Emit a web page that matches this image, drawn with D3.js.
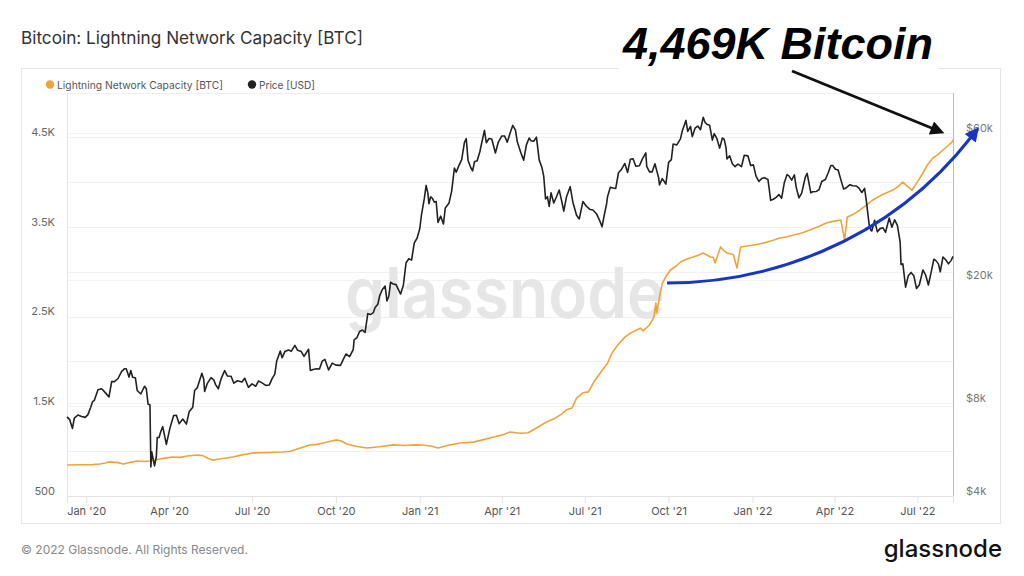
<!DOCTYPE html>
<html><head><meta charset="utf-8">
<script src="https://cdn.jsdelivr.net/npm/d3@7"></script>
<style>
body{margin:0;background:#fff;}
svg{display:block;font-family:Inter,"Noto Sans",sans-serif;}
</style>
</head><body>
<svg id="c" width="1024" height="576"></svg>
<script>
const title = "Bitcoin: Lightning Network Capacity [BTC]";
const seriesNames = ["Lightning Network Capacity [BTC]", "Price [USD]"];
const seriesColors = ["#eea43a", "#222222"];
const leftTicks = [500, 1500, 2500, 3500, 4500];
const leftTickLabels = ["500", "1.5K", "2.5K", "3.5K", "4.5K"];
const leftGrid = [500, 1000, 1500, 2000, 2500, 3000, 3500, 4000, 4500];
const rightTicks = [4000, 8000, 20000, 60000];
const rightTickLabels = ["$4k", "$8k", "$20k", "$60k"];
const xDomain = ["2019-12-11", "2022-08-09"];
const annotationText = "4,469K Bitcoin";
const watermark = "glassnode";
const footer = "© 2022 Glassnode. All Rights Reserved.";

const capacity = [
["2019-12-11",845],["2019-12-25",848],["2020-01-08",850],["2020-01-16",857],["2020-01-22",868],["2020-01-27",880],
["2020-02-05",872],["2020-02-11",857],["2020-02-18",875],["2020-02-26",890],["2020-03-04",884],["2020-03-11",890],["2020-03-22",912],
["2020-03-29",925],["2020-04-05",935],["2020-04-13",930],["2020-04-21",945],["2020-05-02",957],["2020-05-08",950],["2020-05-14",918],["2020-05-19",900],
["2020-05-28",915],["2020-06-10",935],["2020-06-20",958],["2020-07-02",980],["2020-07-20",985],["2020-08-04",990],["2020-08-12",998],["2020-08-23",1035],
["2020-09-03",1070],["2020-09-10",1075],["2020-09-17",1090],["2020-09-25",1110],["2020-10-02",1125],["2020-10-07",1112],["2020-10-13",1080],["2020-10-24",1052],["2020-11-04",1035],
["2020-11-18",1048],["2020-12-03",1070],["2020-12-15",1062],["2020-12-29",1070],["2021-01-06",1066],["2021-01-13",1057],["2021-01-21",1035],["2021-02-01",1065],["2021-02-14",1090],
["2021-03-01",1100],["2021-03-12",1128],["2021-03-23",1157],["2021-04-01",1178],["2021-04-10",1213],["2021-04-21",1200],["2021-04-30",1205],
["2021-05-09",1258],["2021-05-20",1325],["2021-05-30",1370],["2021-06-05",1410],["2021-06-11",1460],["2021-06-17",1480],
["2021-06-22",1590],["2021-06-29",1650],["2021-07-05",1660],["2021-07-11",1770],["2021-07-18",1870],
["2021-07-26",1980],["2021-07-31",2095],["2021-08-06",2180],["2021-08-14",2270],["2021-08-21",2320],["2021-08-27",2350],
["2021-08-31",2370],["2021-09-03",2340],["2021-09-10",2405],["2021-09-15",2495],["2021-09-17",2650],
["2021-09-18",2540],["2021-09-21",2715],["2021-09-24",2870],["2021-09-29",2960],["2021-10-03",3018],["2021-10-09",3060],["2021-10-14",3107],
["2021-10-21",3140],["2021-10-28",3163],["2021-11-03",3185],["2021-11-08",3207],["2021-11-16",3163],["2021-11-19",3160],["2021-11-21",3096],["2021-11-27",3275],
["2021-12-01",3230],["2021-12-04",3207],["2021-12-11",3190],["2021-12-15",3040],["2021-12-19",3275],["2021-12-26",3285],["2022-01-02",3297],
["2022-01-10",3310],["2022-01-17",3330],["2022-01-24",3350],["2022-01-31",3375],["2022-02-08",3388],["2022-02-15",3408],["2022-02-24",3430],["2022-03-05",3464],["2022-03-14",3500],["2022-03-23",3542],
["2022-03-30",3560],["2022-04-08",3575],["2022-04-12",3352],["2022-04-15",3609],["2022-04-22",3640],["2022-04-29",3687],["2022-05-06",3740],["2022-05-13",3798],
["2022-05-22",3850],["2022-06-04",3909],["2022-06-10",3950],["2022-06-15",3999],["2022-06-20",3950],["2022-06-25",3909],["2022-07-01",4000],["2022-07-07",4099],["2022-07-12",4190],["2022-07-18",4266],
["2022-07-23",4300],["2022-07-29",4355],["2022-08-03",4400],["2022-08-08",4444],["2022-08-09",4469]
];

const price = [
["2019-12-11",7220],["2019-12-14",7070],["2019-12-17",6620],["2019-12-19",7150],["2019-12-23",7320],
["2019-12-27",7240],["2019-12-31",7190],["2020-01-03",7340],["2020-01-06",7760],["2020-01-08",8080],
["2020-01-10",8170],["2020-01-14",8830],["2020-01-18",8900],["2020-01-22",8650],["2020-01-26",8370],
["2020-01-29",9390],["2020-02-01",9390],["2020-02-05",9610],["2020-02-09",10130],["2020-02-12",10330],
["2020-02-14",10330],["2020-02-17",9710],["2020-02-19",10200],["2020-02-21",9700],["2020-02-24",9670],
["2020-02-26",8790],["2020-03-01",8560],["2020-03-05",9070],["2020-03-07",8900],["2020-03-09",7930],
["2020-03-11",7900],["2020-03-12",4970],["2020-03-13",5560],["2020-03-16",5010],["2020-03-18",5360],
["2020-03-19",6190],["2020-03-21",6190],["2020-03-23",6480],["2020-03-25",6710],["2020-03-29",5880],
["2020-04-02",6650],["2020-04-06",7290],["2020-04-09",7300],["2020-04-12",6860],["2020-04-16",7100],
["2020-04-20",6840],["2020-04-23",7500],["2020-04-27",7760],["2020-04-29",8790],["2020-05-02",8980],
["2020-05-07",9990],["2020-05-09",9550],["2020-05-10",8720],["2020-05-13",9270],["2020-05-17",9670],
["2020-05-20",9520],["2020-05-22",9180],["2020-05-25",8900],["2020-05-28",9580],["2020-06-01",10200],
["2020-06-04",9790],["2020-06-08",9770],["2020-06-11",9280],["2020-06-15",9450],["2020-06-20",9360],
["2020-06-23",9630],["2020-06-27",9000],["2020-07-01",9230],["2020-07-05",9070],["2020-07-08",9430],
["2020-07-12",9300],["2020-07-16",9130],["2020-07-20",9160],["2020-07-23",9600],["2020-07-26",9930],
["2020-07-28",10930],["2020-08-01",11800],["2020-08-03",11220],["2020-08-06",11750],["2020-08-10",11880],
["2020-08-13",11770],["2020-08-17",12300],["2020-08-20",11860],["2020-08-24",11750],["2020-08-27",11330],
["2020-09-01",11950],["2020-09-03",10200],["2020-09-06",10280],["2020-09-10",10340],["2020-09-13",10320],
["2020-09-16",10940],["2020-09-19",11080],["2020-09-23",10240],["2020-09-27",10780],["2020-10-01",10620],
["2020-10-06",10600],["2020-10-09",11060],["2020-10-12",11540],["2020-10-16",11320],["2020-10-20",11920],
["2020-10-21",12820],["2020-10-24",13030],["2020-10-27",13650],["2020-10-30",13800],["2020-11-02",13560],
["2020-11-05",15590],["2020-11-08",15480],["2020-11-11",15700],["2020-11-13",16310],["2020-11-16",16720],
["2020-11-18",17800],["2020-11-21",18670],["2020-11-24",19160],["2020-11-26",17150],["2020-11-28",17720],
["2020-11-30",19700],["2020-12-03",19440],["2020-12-06",19360],["2020-12-09",18540],["2020-12-11",18050],
["2020-12-14",19270],["2020-12-17",22800],["2020-12-20",23470],["2020-12-23",23240],["2020-12-26",26440],
["2020-12-29",27360],["2021-01-01",29370],["2021-01-03",32780],["2021-01-06",36770],["2021-01-08",40580],
["2021-01-10",38150],["2021-01-11",35400],["2021-01-13",37300],["2021-01-15",36800],["2021-01-17",35790],
["2021-01-19",36000],["2021-01-21",30800],["2021-01-24",32260],["2021-01-27",30430],["2021-01-29",34300],
["2021-02-02",35500],["2021-02-05",38900],["2021-02-08",46200],["2021-02-10",44800],["2021-02-13",47100],
["2021-02-16",49200],["2021-02-19",55900],["2021-02-21",57500],["2021-02-23",48900],["2021-02-26",46300],
["2021-02-28",45200],["2021-03-02",48400],["2021-03-05",48800],["2021-03-08",52300],["2021-03-10",55800],
["2021-03-13",61200],["2021-03-15",55800],["2021-03-18",57600],["2021-03-21",57400],["2021-03-25",51700],
["2021-03-28",55800],["2021-04-01",58700],["2021-04-04",58700],["2021-04-07",56000],["2021-04-10",59900],
["2021-04-13",63500],["2021-04-16",61300],["2021-04-18",56200],["2021-04-22",51700],["2021-04-25",49000],
["2021-04-28",54900],["2021-05-01",57800],["2021-05-03",56600],["2021-05-06",56400],["2021-05-09",58200],
["2021-05-12",49100],["2021-05-15",46400],["2021-05-17",43500],["2021-05-19",36700],["2021-05-21",37300],
["2021-05-23",34700],["2021-05-25",38400],["2021-05-28",35600],["2021-05-31",37300],["2021-06-03",39200],
["2021-06-06",35800],["2021-06-08",33500],["2021-06-11",37300],["2021-06-15",40200],["2021-06-18",35800],
["2021-06-22",32500],["2021-06-25",31600],["2021-06-29",36000],["2021-07-03",34700],["2021-07-07",33900],
["2021-07-10",33800],["2021-07-14",32800],["2021-07-17",31400],["2021-07-20",29800],["2021-07-22",32100],
["2021-07-25",35400],["2021-07-26",37300],["2021-07-29",40000],["2021-08-01",39800],["2021-08-04",39700],
["2021-08-07",44600],["2021-08-10",45600],["2021-08-14",47800],["2021-08-17",44700],["2021-08-20",49300],
["2021-08-23",49500],["2021-08-26",46800],["2021-08-30",47000],["2021-09-02",49300],["2021-09-06",51700],
["2021-09-07",46800],["2021-09-10",44900],["2021-09-13",44900],["2021-09-16",47700],["2021-09-20",43000],
["2021-09-21",40700],["2021-09-24",42700],["2021-09-28",41000],["2021-10-01",48200],["2021-10-04",49200],
["2021-10-06",55300],["2021-10-10",54900],["2021-10-14",57400],["2021-10-16",60900],["2021-10-20",65900],
["2021-10-22",60700],["2021-10-25",63000],["2021-10-27",58400],["2021-10-30",62200],["2021-11-02",63200],
["2021-11-05",61500],["2021-11-08",67500],["2021-11-10",64900],["2021-11-12",64100],["2021-11-15",63600],
["2021-11-18",56900],["2021-11-20",59700],["2021-11-23",57500],["2021-11-26",53600],["2021-11-29",57800],
["2021-12-01",57200],["2021-12-03",53700],["2021-12-04",49400],["2021-12-07",50600],["2021-12-10",47600],
["2021-12-13",46700],["2021-12-16",47600],["2021-12-20",46700],["2021-12-23",50800],["2021-12-27",50600],
["2021-12-30",47100],["2022-01-02",47300],["2022-01-05",43400],["2022-01-08",41800],["2022-01-11",42700],
["2022-01-14",43000],["2022-01-18",42400],["2022-01-21",36300],["2022-01-24",36600],["2022-01-27",37100],
["2022-01-30",37900],["2022-02-02",36900],["2022-02-05",41500],["2022-02-08",44000],["2022-02-10",43600],
["2022-02-13",42200],["2022-02-16",43900],["2022-02-18",40000],["2022-02-21",37000],["2022-02-24",38300],
["2022-02-28",43200],["2022-03-02",44400],["2022-03-06",38400],["2022-03-08",38700],["2022-03-12",38800],
["2022-03-15",39300],["2022-03-18",41800],["2022-03-22",42400],["2022-03-25",44500],["2022-03-28",47100],
["2022-03-30",47100],["2022-04-02",45800],["2022-04-05",45500],["2022-04-08",42300],["2022-04-11",39500],
["2022-04-14",39900],["2022-04-18",40800],["2022-04-21",40500],["2022-04-25",40400],["2022-04-28",39700],
["2022-05-01",38500],["2022-05-04",39700],["2022-05-06",36000],["2022-05-09",30300],["2022-05-11",29000],
["2022-05-12",28900],["2022-05-15",31300],["2022-05-18",28700],["2022-05-21",29400],["2022-05-24",29600],
["2022-05-27",28600],["2022-05-31",31800],["2022-06-03",29700],["2022-06-06",31400],["2022-06-09",30100],
["2022-06-12",26600],["2022-06-13",22500],["2022-06-15",22600],["2022-06-18",19000],["2022-06-21",20700],
["2022-06-24",21200],["2022-06-27",20700],["2022-06-30",18800],["2022-07-03",19300],["2022-07-07",21600],
["2022-07-10",20800],["2022-07-13",19300],["2022-07-16",21200],["2022-07-19",23400],["2022-07-21",23200],
["2022-07-24",22600],["2022-07-26",21300],["2022-07-29",23800],["2022-08-01",23300],["2022-08-04",22600],
["2022-08-07",23200],["2022-08-09",23900]
];

const parse = d3.utcParse("%Y-%m-%d");
const svg = d3.select("#c");
const L = 67, R = 953, T = 93, B = 496;

const x = d3.scaleUtc().domain(xDomain.map(parse)).range([L, R]);
const yL = d3.scaleLinear().domain([500, 4500]).range([B, 137]);
const yR = d3.scaleLog().domain([4000, 60000]).range([B, 133]);

// title
svg.append("text").attr("x", 21).attr("y", 44).attr("font-size", 17.2).attr("fill", "#333").text(title);

// card
svg.append("rect").attr("x", 21.5).attr("y", 68.5).attr("width", 979).attr("height", 455)
  .attr("fill", "none").attr("stroke", "#e6e6e6");

// legend
const lg = svg.append("g");
[[50, 0, 166], [252, 1, 56]].forEach(([lx, i, w]) => {
  lg.append("circle").attr("cx", lx).attr("cy", 84.5).attr("r", 4.2).attr("fill", seriesColors[i]);
  lg.append("text").attr("x", lx + 7).attr("y", 88.5).attr("font-size", 10.6).attr("fill", "#555")
    .attr("textLength", w).attr("lengthAdjust", "spacingAndGlyphs").text(seriesNames[i]);
});

// grid
svg.append("line").attr("x1", L).attr("x2", R).attr("y1", T + 0.5).attr("y2", T + 0.5).attr("stroke", "#eeeeee");
svg.append("g").selectAll("line").data(leftGrid).join("line")
  .attr("x1", L).attr("x2", R).attr("y1", d => Math.round(yL(d)) + 0.5).attr("y2", d => Math.round(yL(d)) + 0.5)
  .attr("stroke", "#f1f1f1");
svg.append("g").selectAll("line").data(rightTicks).join("line")
  .attr("x1", L).attr("x2", R).attr("y1", d => Math.round(yR(d)) + 0.5).attr("y2", d => Math.round(yR(d)) + 0.5)
  .attr("stroke", "#f3f3f3");

// watermark
svg.append("text").attr("x", 345).attr("y", 318).attr("font-size", 70).attr("font-weight", 600)
  .attr("fill", "#e6e6e6").attr("textLength", 320).attr("lengthAdjust", "spacingAndGlyphs")
  .attr("font-family", "Inter, sans-serif").text(watermark);

// x axis
const xa = svg.append("g").attr("transform", `translate(0,${B})`)
  .call(d3.axisBottom(x).ticks(d3.utcMonth.every(3)).tickFormat(d3.utcFormat("%b '%y")).tickSize(7).tickPadding(4));
xa.select(".domain").attr("stroke", "#e3e3e3");
xa.selectAll(".tick line").attr("stroke", "#e3e3e3");
xa.selectAll("text").attr("font-size", 11).attr("fill", "#555").attr("font-family", "Inter, sans-serif");

// left axis
const la = svg.append("g").attr("transform", `translate(${L},0)`)
  .call(d3.axisLeft(yL).tickValues(leftTicks).tickFormat((d, i) => leftTickLabels[i]).tickSize(0).tickPadding(12));
la.select(".domain").remove();
la.selectAll("text").attr("font-size", 11).attr("fill", "#666").attr("dy", "-0.15em").attr("font-family", "Inter, sans-serif");
svg.append("line").attr("x1", L + 0.5).attr("x2", L + 0.5).attr("y1", T).attr("y2", B).attr("stroke", "#f5e2b5");

// right axis
const ra = svg.append("g").attr("transform", `translate(${R},0)`)
  .call(d3.axisRight(yR).tickValues(rightTicks).tickFormat((d, i) => rightTickLabels[i]).tickSize(0).tickPadding(13));
ra.select(".domain").remove();
ra.selectAll("text").attr("font-size", 11).attr("fill", "#777").attr("dy", "-0.15em").attr("font-family", "Inter, sans-serif");
svg.append("line").attr("x1", R + 0.5).attr("x2", R + 0.5).attr("y1", T).attr("y2", B).attr("stroke", "#bbbbbb");

// lines
const capLine = d3.line().x(d => x(parse(d[0]))).y(d => yL(d[1]));
const priceLine = d3.line().x(d => x(parse(d[0]))).y(d => yR(d[1]));
svg.append("path").attr("d", capLine(capacity)).attr("fill", "none").attr("stroke", seriesColors[0]).attr("stroke-width", 1.6).attr("stroke-linejoin", "round");
svg.append("path").attr("d", priceLine(price)).attr("fill", "none").attr("stroke", seriesColors[1]).attr("stroke-width", 1.6).attr("stroke-linejoin", "round");

// annotations
const defs = svg.append("defs");
function marker(id, color) {
  defs.append("marker").attr("id", id).attr("viewBox", "0 0 10 10").attr("refX", 2).attr("refY", 5)
    .attr("markerUnits", "userSpaceOnUse").attr("markerWidth", 16).attr("markerHeight", 14).attr("orient", "auto")
    .append("path").attr("d", "M0,0 L10,5 L0,10 Z").attr("fill", color);
}
marker("ab", "#111");
marker("au", "#1636c4");

svg.append("rect").attr("x", 618).attr("y", 0).attr("width", 320).attr("height", 72).attr("fill", "#fff");
svg.append("text").attr("x", 623).attr("y", 59).attr("font-family", "'Liberation Sans', Arial, sans-serif")
  .attr("font-size", 45).attr("font-weight", "bold").attr("font-style", "italic").attr("fill", "#000")
  .attr("textLength", 310).attr("lengthAdjust", "spacingAndGlyphs").text(annotationText);

svg.append("line").attr("x1", 792).attr("y1", 71).attr("x2", 934).attr("y2", 129)
  .attr("stroke", "#111").attr("stroke-width", 2.8).attr("marker-end", "url(#ab)");

svg.append("path").attr("d", "M667,283 C760,283 885,248 972,136")
  .attr("fill", "none").attr("stroke", "#1636c4").attr("stroke-width", 3).attr("marker-end", "url(#au)");

// footer
svg.append("text").attr("x", 21).attr("y", 554).attr("font-size", 12).attr("fill", "#888").text(footer);
svg.append("text").attr("x", 1002).attr("y", 557).attr("text-anchor", "end").attr("font-size", 24).attr("font-weight", 500).attr("fill", "#111")
  .attr("font-family", "Inter, sans-serif").text(watermark);
</script>
</body></html>
